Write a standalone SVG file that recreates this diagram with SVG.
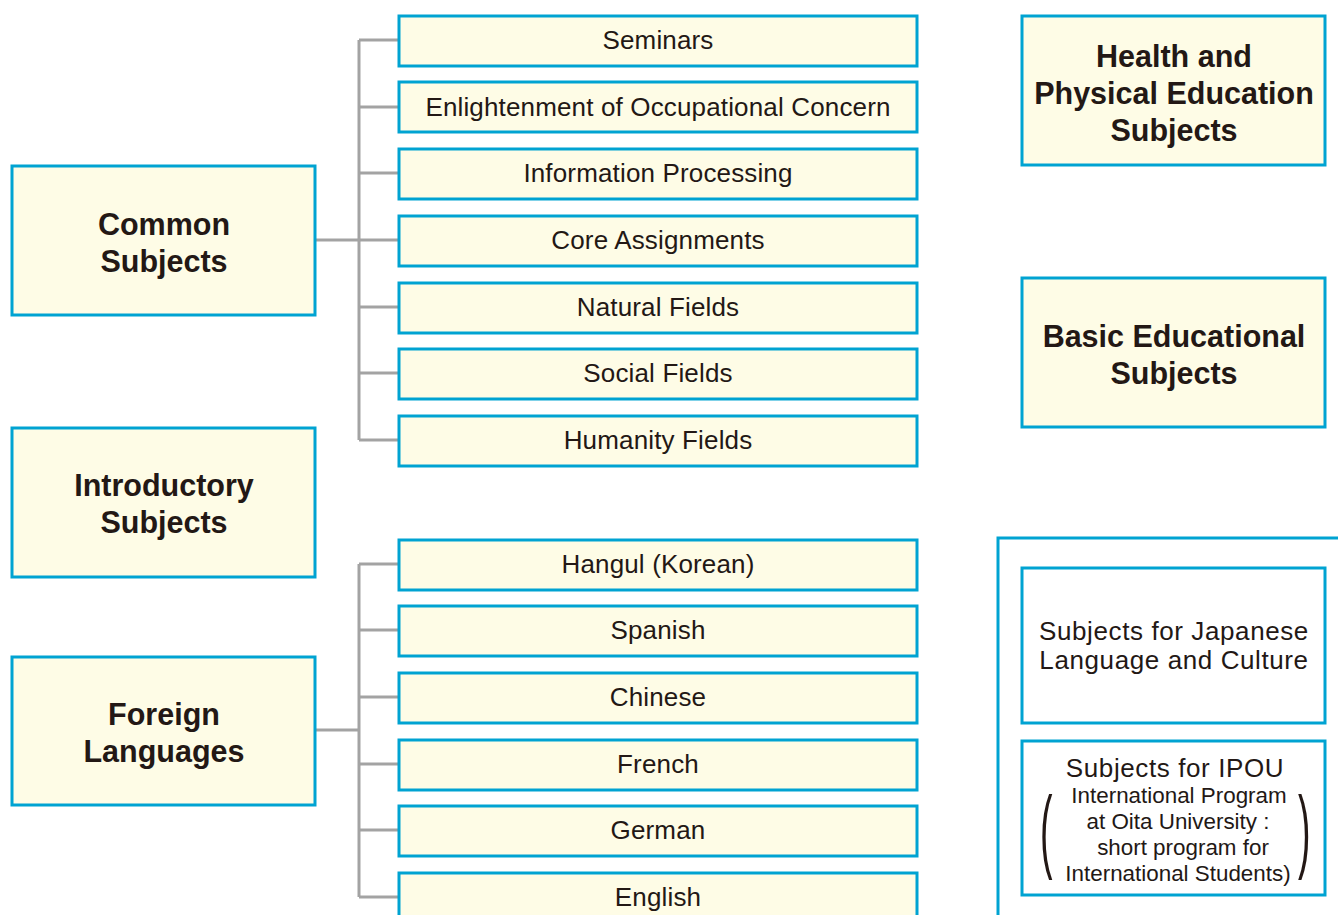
<svg xmlns="http://www.w3.org/2000/svg" width="1338" height="915" viewBox="0 0 1338 915">
<style>
.box{fill:#fefce6;stroke:#00a3d2;stroke-width:3}
.wbox{fill:#ffffff;stroke:#00a3d2;stroke-width:3}
.frame{fill:none;stroke:#00a3d2;stroke-width:3}
.ln{fill:none;stroke:#a3a3a3;stroke-width:3}
.h{font-family:"Liberation Sans",Arial,sans-serif;font-weight:bold;font-size:30.5px;fill:#231815;text-anchor:middle}
.t{font-family:"Liberation Sans",Arial,sans-serif;font-size:26px;letter-spacing:0.15px;fill:#231815;text-anchor:middle}
.r{font-family:"Liberation Sans",Arial,sans-serif;font-size:26px;letter-spacing:0.6px;fill:#231815;text-anchor:middle}
.s{font-family:"Liberation Sans",Arial,sans-serif;font-size:22.4px;fill:#231815;text-anchor:middle}
.p{font-family:"Liberation Sans",Arial,sans-serif;font-size:30px;fill:#231815}
</style>
<rect width="1338" height="915" fill="#ffffff"/>
<g id="connectors">
<path class="ln" d="M316,240 H359 M359,40 V440 M359,40 H399 M359,107 H399 M359,173 H399 M359,240 H399 M359,307 H399 M359,373 H399 M359,440 H399"/>
<path class="ln" d="M316,730 H359 M359,564 V897 M359,564 H399 M359,630 H399 M359,697 H399 M359,764 H399 M359,830 H399 M359,897 H399"/>
</g>
<g id="common"><rect class="box" x="12" y="166" width="303" height="149"/><text class="h" x="164" y="235">Common</text><text class="h" x="164" y="272">Subjects</text></g>
<g id="introductory"><rect class="box" x="12" y="428" width="303" height="149"/><text class="h" x="164" y="496">Introductory</text><text class="h" x="164" y="533">Subjects</text></g>
<g id="foreign"><rect class="box" x="12" y="657" width="303" height="148"/><text class="h" x="164" y="725">Foreign</text><text class="h" x="164" y="762">Languages</text></g>
<g id="seminars"><rect class="box" x="399" y="16" width="518" height="50"/><text class="t" x="658" y="49">Seminars</text></g>
<g id="enlightenment"><rect class="box" x="399" y="82" width="518" height="50"/><text class="t" x="658" y="116">Enlightenment of Occupational Concern</text></g>
<g id="information"><rect class="box" x="399" y="149" width="518" height="50"/><text class="t" x="658" y="182">Information Processing</text></g>
<g id="core"><rect class="box" x="399" y="216" width="518" height="50"/><text class="t" x="658" y="249">Core Assignments</text></g>
<g id="natural"><rect class="box" x="399" y="283" width="518" height="50"/><text class="t" x="658" y="316">Natural Fields</text></g>
<g id="social"><rect class="box" x="399" y="349" width="518" height="50"/><text class="t" x="658" y="382">Social Fields</text></g>
<g id="humanity"><rect class="box" x="399" y="416" width="518" height="50"/><text class="t" x="658" y="449">Humanity Fields</text></g>
<g id="hangul"><rect class="box" x="399" y="540" width="518" height="50"/><text class="t" x="658" y="573">Hangul (Korean)</text></g>
<g id="spanish"><rect class="box" x="399" y="606" width="518" height="50"/><text class="t" x="658" y="639">Spanish</text></g>
<g id="chinese"><rect class="box" x="399" y="673" width="518" height="50"/><text class="t" x="658" y="706">Chinese</text></g>
<g id="french"><rect class="box" x="399" y="740" width="518" height="50"/><text class="t" x="658" y="773">French</text></g>
<g id="german"><rect class="box" x="399" y="806" width="518" height="50"/><text class="t" x="658" y="839">German</text></g>
<g id="english"><rect class="box" x="399" y="873" width="518" height="50"/><text class="t" x="658" y="906">English</text></g>
<g id="health"><rect class="box" x="1022" y="16" width="303" height="149"/><text class="h" x="1174" y="67">Health and</text><text class="h" x="1174" y="104">Physical Education</text><text class="h" x="1174" y="141">Subjects</text></g>
<g id="basic"><rect class="box" x="1022" y="278" width="303" height="149"/><text class="h" x="1174" y="347">Basic Educational</text><text class="h" x="1174" y="384">Subjects</text></g>
<g id="frame"><path class="frame" d="M1340,538 H998 V920"/></g>
<g id="japanese"><rect class="wbox" x="1022" y="568" width="303" height="155"/><text class="r" x="1174" y="640">Subjects for Japanese</text><text class="r" x="1174" y="669">Language and Culture</text></g>
<g id="ipou"><rect class="wbox" x="1022" y="741" width="303" height="154"/><text class="r" x="1175" y="777">Subjects for IPOU</text><text class="s" x="1179" y="803">International Program</text><text class="s" x="1178" y="829">at Oita University :</text><text class="s" x="1183" y="855">short program for</text><text class="s" x="1178" y="881">International Students)</text>
<text class="p" transform="translate(1040,861) scale(1.25,3.1)">(</text>
<text class="p" transform="translate(1298,861) scale(1.25,3.1)">)</text></g>
</svg>
